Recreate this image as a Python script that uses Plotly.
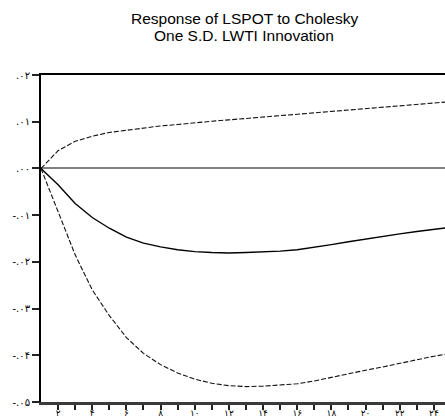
import plotly.graph_objects as go

periods = list(range(1, 26))
response = [0.0, -0.0035, -0.0075, -0.0105, -0.0128, -0.0147, -0.0160, -0.0168, -0.0174,
            -0.0178, -0.0180, -0.0181, -0.0180, -0.0179, -0.0177, -0.0174, -0.0169, -0.0163,
            -0.0157, -0.0151, -0.0146, -0.0140, -0.0135, -0.0130, -0.0126]
upper = [0.0, 0.0038, 0.0058, 0.0069, 0.0077, 0.0082, 0.0087, 0.0091, 0.0094, 0.0098,
         0.0101, 0.0104, 0.0107, 0.0110, 0.0113, 0.0116, 0.0119, 0.0122, 0.0125, 0.0128,
         0.0131, 0.0134, 0.0137, 0.0140, 0.0143]
lower = [0.0, -0.0092, -0.0185, -0.0260, -0.0315, -0.0362, -0.0396, -0.0420, -0.0438,
         -0.0451, -0.0460, -0.0465, -0.0467, -0.0466, -0.0464, -0.0461, -0.0455, -0.0447,
         -0.0440, -0.0432, -0.0425, -0.0417, -0.0410, -0.0402, -0.0396]

x_tickvals = list(range(2, 25, 2))
x_ticktext = ["۲", "۴", "۶", "۸", "۱۰", "۱۲", "۱۴", "۱۶", "۱۸", "۲۰", "۲۲", "۲۴"]
x_minor = list(range(3, 25, 2))
y_tickvals = [0.02, 0.01, 0.0, -0.01, -0.02, -0.03, -0.04, -0.05]
y_ticktext = [".۰۲", ".۰۱", ".۰۰", "-.۰۱", "-.۰۲", "-.۰۳", "-.۰۴", "-.۰۵"]

title_lines = ["Response of LSPOT to Cholesky", "One S.D. LWTI Innovation"]

fig = go.Figure()
fig.add_trace(go.Scatter(x=periods, y=upper, mode="lines",
                         line=dict(color="#111", width=1.1, dash="5px,2px"), showlegend=False))
fig.add_trace(go.Scatter(x=periods, y=lower, mode="lines",
                         line=dict(color="#111", width=1.1, dash="5px,2px"), showlegend=False))
fig.add_trace(go.Scatter(x=periods, y=response, mode="lines",
                         line=dict(color="#000", width=1.4), showlegend=False))
# invisible trace to activate top border axis
fig.add_trace(go.Scatter(x=periods, y=response, xaxis="x2", mode="lines",
                         line=dict(width=0), hoverinfo="skip", showlegend=False))

for i, (line_text, shift) in enumerate(zip(title_lines, [57, 40])):
    fig.add_annotation(text=line_text, xref="paper", yref="paper", x=0.503, y=1,
                       xanchor="center", yanchor="middle", yshift=shift, showarrow=False,
                       font=dict(family="Arial, Liberation Sans", size=15.5, color="#000"))

fig.update_layout(
    width=445, height=419,
    margin=dict(l=41, r=0, t=75, b=17, autoexpand=False),
    paper_bgcolor="white", plot_bgcolor="white",
    font=dict(family="Arial, Liberation Sans, DejaVu Sans", color="#000", size=10),
    xaxis=dict(range=[1, 24.65], tickmode="array", tickvals=x_tickvals, ticktext=x_ticktext,
               automargin=False,
               showgrid=False, zeroline=False, showline=True, linecolor="#3a3a3a", linewidth=3,
               ticks="outside", ticklen=5, tickwidth=1.5, tickcolor="#222",
               ticklabelstandoff=-5,
               tickfont=dict(size=9, family="DejaVu Sans, Arial"),
               minor=dict(tickmode="array", tickvals=x_minor, ticks="outside", ticklen=5,
                          tickwidth=1.5, tickcolor="#222", showgrid=False)),
    xaxis2=dict(range=[1, 24.65], overlaying="x", side="top", showline=True, linecolor="#000",
                automargin=False,
                linewidth=2, showticklabels=False, ticks="", showgrid=False, zeroline=False),
    yaxis=dict(range=[-0.05, 0.02], tickmode="array", tickvals=y_tickvals, ticktext=y_ticktext,
               automargin=False,
               showgrid=False, zeroline=True, zerolinecolor="#808080", zerolinewidth=2,
               showline=True, linecolor="#000", linewidth=2,
               ticks="outside", ticklen=7, tickwidth=1.5, tickcolor="#222",
               tickfont=dict(size=10, family="DejaVu Sans, Arial")),
)

fig.write_html("out.html", config={"displayModeBar": False},
               post_script="document.body.style.margin='0px';document.body.style.overflow='hidden';")
